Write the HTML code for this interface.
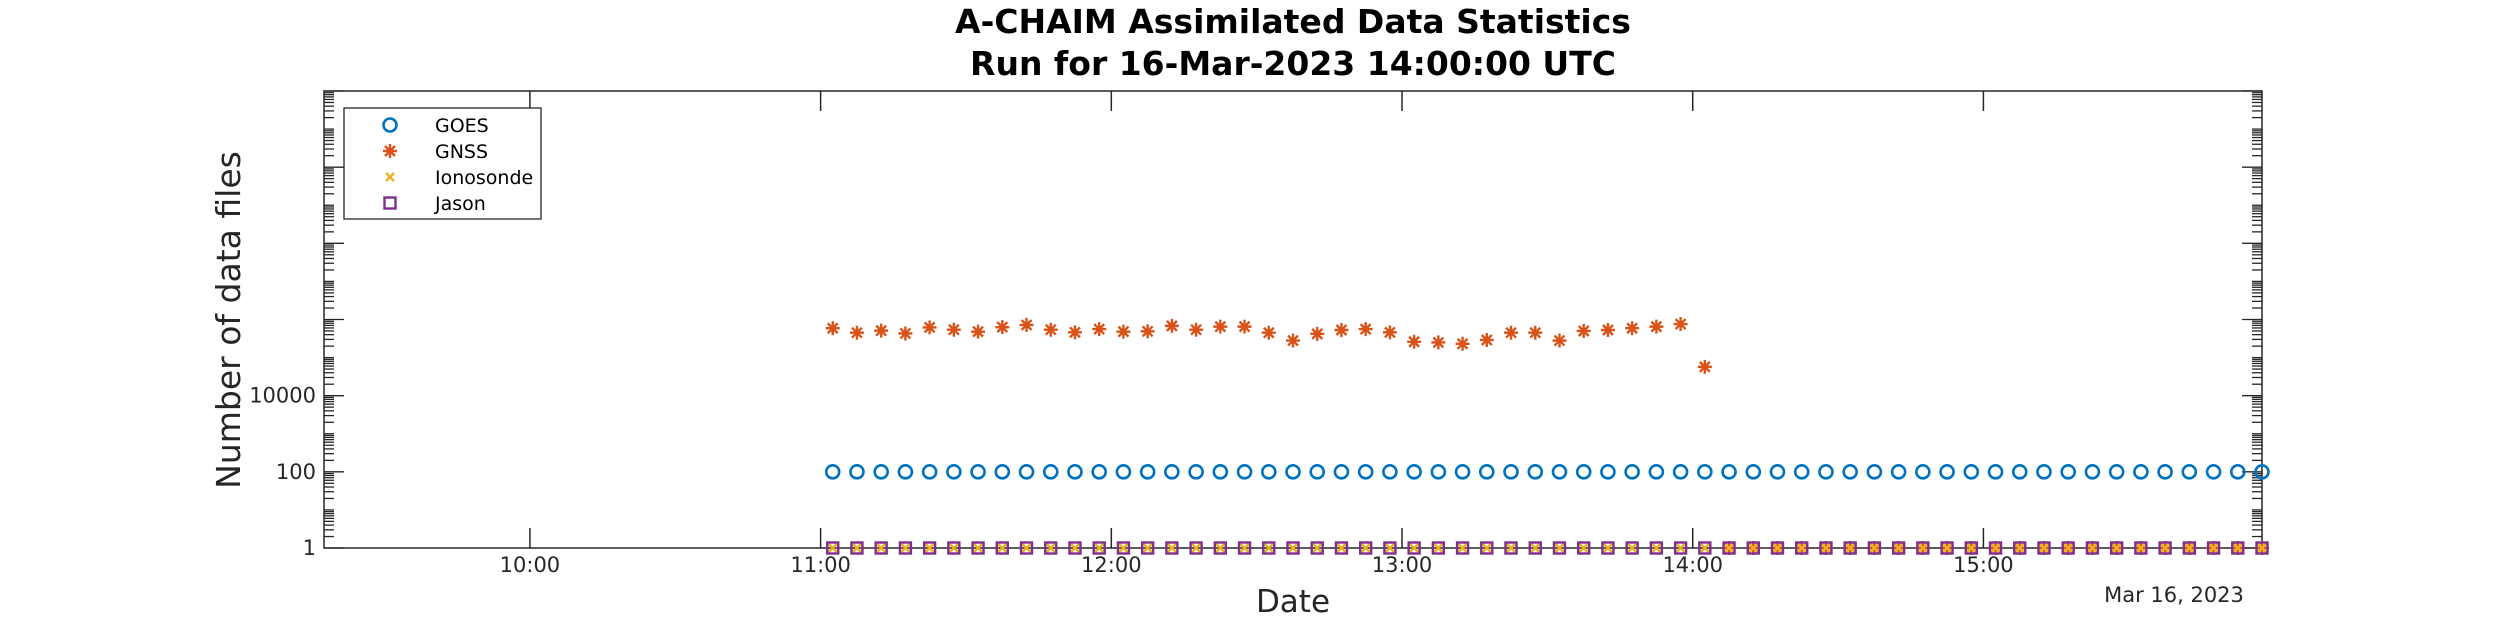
<!DOCTYPE html>
<html><head><meta charset="utf-8">
<style>
html,body{margin:0;padding:0;background:#fff;}
svg{display:block;font-family:"DejaVu Sans","Liberation Sans",sans-serif;}
</style></head>
<body>
<svg id="chart" width="2500" height="625" viewBox="0 0 2500 625" xmlns="http://www.w3.org/2000/svg">
<rect width="2500" height="625" fill="#fff"/>
<text x="1293" y="33" text-anchor="middle" font-size="33" font-weight="bold" fill="#000">A-CHAIM Assimilated Data Statistics</text>
<text x="1293" y="75" text-anchor="middle" font-size="33" font-weight="bold" fill="#000">Run for 16-Mar-2023 14:00:00 UTC</text>
<g id="axes"></g>
<g id="marks"></g>
<text x="1293" y="612" text-anchor="middle" font-size="31" fill="#262626">Date</text>
<text transform="translate(240,320) rotate(-90)" text-anchor="middle" font-size="33" fill="#262626">Number of data files</text>
<text x="2174" y="602" text-anchor="middle" font-size="21" fill="#262626">Mar 16, 2023</text>
<g id="legend"></g>
</svg>
<script>
const times = ["11:02:30","11:07:30","11:12:30","11:17:30","11:22:30","11:27:30","11:32:30","11:37:30","11:42:30","11:47:30","11:52:30","11:57:30",
"12:02:30","12:07:30","12:12:30","12:17:30","12:22:30","12:27:30","12:32:30","12:37:30","12:42:30","12:47:30","12:52:30","12:57:30",
"13:02:30","13:07:30","13:12:30","13:17:30","13:22:30","13:27:30","13:32:30","13:37:30","13:42:30","13:47:30","13:52:30","13:57:30",
"14:02:30","14:07:30","14:12:30","14:17:30","14:22:30","14:27:30","14:32:30","14:37:30","14:42:30","14:47:30","14:52:30","14:57:30",
"15:02:30","15:07:30","15:12:30","15:17:30","15:22:30","15:27:30","15:32:30","15:37:30","15:42:30","15:47:30","15:52:30","15:57:30"];
const goesValues = [100,100,100,100,100,100,100,100,100,100,100,100,100,100,100,100,100,100,100,100,100,100,100,100,100,100,100,100,100,100,100,100,100,100,100,100,100,100,100,100,100,100,100,100,100,100,100,100,100,100,100,100,100,100,100,100,100,100,100,100];
const gnssValues = [590000,450000,510000,430000,620000,540000,480000,630000,720000,540000,460000,560000,480000,490000,680000,540000,650000,650000,
450000,280000,420000,530000,560000,460000,260000,250000,230000,290000,450000,450000,280000,500000,530000,590000,650000,760000,
57000,1,1,1,1,1,1,1,1,1,1,1,1,1,1,1,1,1,1,1,1,1,1,1];
const ionosondeValues = [1,1,1,1,1,1,1,1,1,1,1,1,1,1,1,1,1,1,1,1,1,1,1,1,1,1,1,1,1,1,1,1,1,1,1,1,1,1,1,1,1,1,1,1,1,1,1,1,1,1,1,1,1,1,1,1,1,1,1,1];
const jasonValues = [1,1,1,1,1,1,1,1,1,1,1,1,1,1,1,1,1,1,1,1,1,1,1,1,1,1,1,1,1,1,1,1,1,1,1,1,1,1,1,1,1,1,1,1,1,1,1,1,1,1,1,1,1,1,1,1,1,1,1,1];
const xTickLabels = ["10:00","11:00","12:00","13:00","14:00","15:00"];
const yTickLabels = ["1","100","10000"];

const NS="http://www.w3.org/2000/svg";
const L=324,R=2262,T=91,B=548;
const XMIN=557.5,XMAX=957.5,YMIN=0,YMAX=12;
function toMin(s){const p=s.split(":").map(Number);return p[0]*60+p[1]+(p[2]||0)/60;}
function xs(m){return L+(m-XMIN)/(XMAX-XMIN)*(R-L);}
function ys(v){return B-(Math.log10(v)-YMIN)/(YMAX-YMIN)*(B-T);}
function mk(tag,attrs,parent){const e=document.createElementNS(NS,tag);for(const k in attrs)e.setAttribute(k,attrs[k]);parent.appendChild(e);return e;}
const axes=document.getElementById('axes');
const marks=document.getElementById('marks');
const lg=document.getElementById('legend');
const ax="#262626";
let fr=mk('rect',{x:L,y:T,width:R-L,height:B-T,fill:'none',stroke:ax,'stroke-width':1.5},axes);


xTickLabels.forEach(lab=>{
  const x=xs(toMin(lab));
  let t1=mk('line',{x1:x,x2:x,y1:B,y2:B-20,stroke:ax,'stroke-width':1.5},axes);
  
  
  let t2=mk('line',{x1:x,x2:x,y1:T,y2:T+20,stroke:ax,'stroke-width':1.5},axes);
  
  
  let tx=mk('text',{x:x,y:B+24,'text-anchor':'middle','font-size':21,fill:ax},axes);
  tx.textContent=lab;
  
  
});
for(let k=YMIN;k<=YMAX;k++){
  for(let m=1;m<=9;m++){
    const v=m*Math.pow(10,k);
    if(Math.log10(v)>YMAX+1e-9)continue;
    const y=ys(v);
    const major=(m===1&&k%2===0);
    const len=major?20:10;
    let a=mk('line',{x1:L,x2:L+len,y1:y,y2:y,stroke:ax,'stroke-width':1.3},axes);
    
    
    let b=mk('line',{x1:R,x2:R-len,y1:y,y2:y,stroke:ax,'stroke-width':1.3},axes);
    
    
  }
}
yTickLabels.forEach(lab=>{
  const y=ys(Number(lab));
  let tx=mk('text',{x:L-8,y:y+7,'text-anchor':'end','font-size':21,fill:ax},axes);
  tx.textContent=lab;
  
  
});
function circle(g,x,y){return mk('circle',{cx:x,cy:y,r:6.5,fill:'none',stroke:'#0072BD','stroke-width':2.6},g);}
function star(g,x,y){const s=7,d=5;return mk('path',{d:`M${x-s},${y}H${x+s}M${x},${y-s}V${y+s}M${x-d},${y-d}L${x+d},${y+d}M${x-d},${y+d}L${x+d},${y-d}`,stroke:'#D95319','stroke-width':2.4,fill:'none'},g);}
function cross(g,x,y){const d=4;return mk('path',{d:`M${x-d},${y-d}L${x+d},${y+d}M${x-d},${y+d}L${x+d},${y-d}`,stroke:'#EDB120','stroke-width':2.4,fill:'none'},g);}
function square(g,x,y){return mk('rect',{x:x-5.5,y:y-5.5,width:11,height:11,fill:'none',stroke:'#7E2F8E','stroke-width':2.4},g);}
const series=[["goes",goesValues,circle],["gnss",gnssValues,star],["ionosonde",ionosondeValues,cross],["jason",jasonValues,square]];
series.forEach(([name,vals,fn])=>{
  const g=mk('g',{},marks);
  
  
  vals.forEach((v,i)=>{
    const el=fn(g,xs(toMin(times[i])),ys(v));
    
    
  });
});
let box=mk('rect',{x:344,y:108,width:197,height:111,fill:'#fff',stroke:ax,'stroke-width':1.3},lg);


const legNames=["GOES","GNSS","Ionosonde","Jason"];
const legFns=[circle,star,cross,square];
legNames.forEach((n,i)=>{
  const y=125+i*26;
  const g=mk('g',{},lg);
  
  
  legFns[i](g,390,y);
  const t=mk('text',{x:435,y:y+7,'font-size':19,fill:'#000'},g);
  t.textContent=n;
});
</script>
</body></html>
